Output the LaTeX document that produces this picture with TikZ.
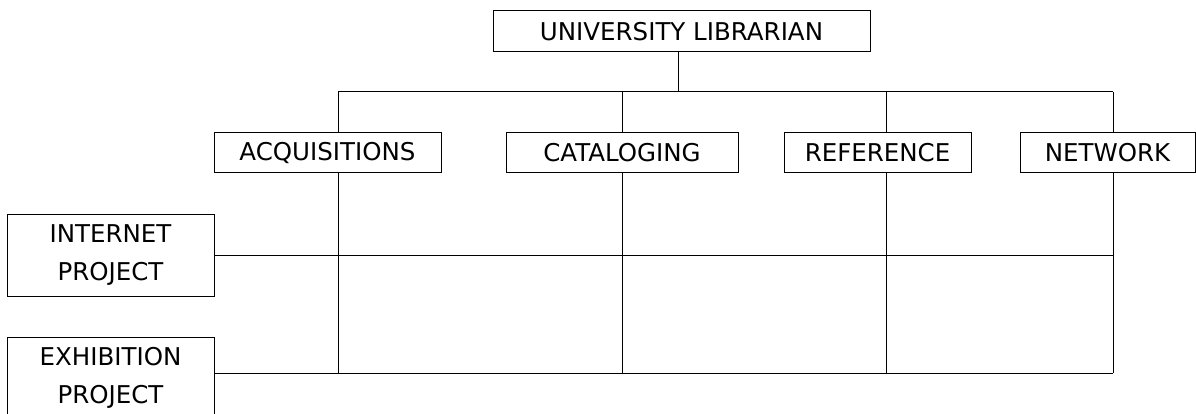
\documentclass[tikz,border=0pt]{standalone}
\usepackage{fontspec}
\setmainfont{DejaVu Sans}
\begin{document}
\begin{tikzpicture}[x=1pt,y=-1pt,
  box/.style={draw,line width=1pt,inner sep=0pt,font=\fontsize{24.5}{38}\selectfont,align=center},
  link/.style={line width=1pt}]
\useasboundingbox (0,0) rectangle (1196,414);
\clip (0,0) rectangle (1196,414);
\node[box,minimum width=377pt,minimum height=41pt] (ul) at (681.5,31.5) {UNIVERSITY LIBRARIAN};
\node[box,minimum width=227pt,minimum height=40pt] (acq) at (327.5,153) {ACQUISITIONS};
\node[box,minimum width=232pt,minimum height=40pt] (cat) at (622,153) {CATALOGING};
\node[box,minimum width=187pt,minimum height=40pt] (ref) at (877.5,153) {REFERENCE};
\node[box,minimum width=175pt,minimum height=40pt] (net) at (1107.5,153) {NETWORK};
\node[box,minimum width=207pt,minimum height=82pt] (inet) at (110.5,255) {INTERNET\\PROJECT};
\node[box,minimum width=207pt,minimum height=82pt] (exh) at (110.5,378) {EXHIBITION\\PROJECT};
\coordinate (bus) at (678,92);
\coordinate (b1) at (338,92);
\coordinate (b4) at (1113,92);
\coordinate (e1) at (1113,255);
\coordinate (e2) at (1113,373);
\draw[link] (ul.south -| bus) -- (bus);
\draw[link] (b1) -- (b4);
\draw[link] (b1) -- (b1 |- acq.north);
\draw[link] (cat.north |- bus) -- (cat.north);
\draw[link] (886,92) -- (886,133);
\draw[link] (b4) -- (b4 |- net.north);
\draw[link] (b1 |- acq.south) -- (b1 |- e2);
\draw[link] (cat.south) -- (cat.south |- e2);
\draw[link] (886,173) -- (886,373);
\draw[link] (b4 |- net.south) -- (e2);
\draw[link] (inet.east) -- (e1);
\draw[link] (exh.east |- e2) -- (e2);
\end{tikzpicture}
\end{document}
